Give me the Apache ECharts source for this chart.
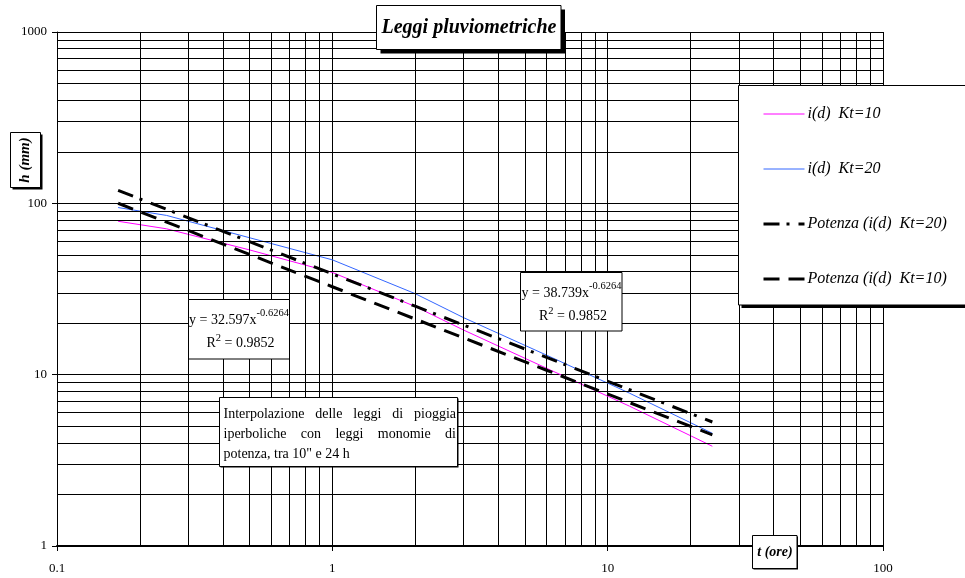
<!DOCTYPE html>
<html>
<head>
<meta charset="utf-8">
<title>Leggi pluviometriche</title>
<script src="https://cdn.jsdelivr.net/npm/echarts@6/dist/echarts.min.js"></script>
<style>
  html, body { margin: 0; padding: 0; background: #fff; }
  #chart { width: 965px; height: 578px; }
</style>
</head>
<body>
<div id="chart"></div>
<script>
// Durations (hours) and rainfall intensities of the hyperbolic laws
const durations = [0.1667, 0.25, 0.5, 1, 2, 3, 6, 12, 24];
const iKt10 = [78.6, 71, 53.5, 39.5, 25, 18.2, 10.9, 6.55, 3.82];
const iKt20 = [94.5, 85, 63, 46.8, 29.7, 21.5, 13.0, 7.8, 4.55];

// Power-law (monomial) trend lines, y = a * x^-0.6264
const fitDurations = [0.1667, 0.5, 1, 2, 6, 12, 24];
const fitKt20 = [119.01, 59.80, 38.739, 25.095, 12.610, 8.168, 5.292];
const fitKt10 = [100.14, 50.32, 32.597, 21.116, 10.611, 6.873, 4.453];

// Axis tick labels (one per decade) and minor grid values
const xTickLabels = ['0.1', '1', '10', '100'];
const yTickLabels = ['1', '10', '100', '1000'];
const xMinorGrid = [0.2, 0.3, 0.4, 0.5, 0.6, 0.7, 0.8, 0.9,
                    2, 3, 4, 5, 6, 7, 8, 9,
                    20, 30, 40, 50, 60, 70, 80, 90];
const yMinorGrid = [2, 3, 4, 5, 6, 7, 8, 9,
                    20, 30, 40, 50, 60, 70, 80, 90,
                    200, 300, 400, 500, 600, 700, 800, 900];

const seriesNames = ['i(d)  Kt=10', 'i(d)  Kt=20', 'Potenza (i(d)  Kt=20)', 'Potenza (i(d)  Kt=10)'];

const SERIF = '"Liberation Serif", "Times New Roman", serif';
const pairs = (xs, ys) => xs.map((x, i) => [x, ys[i]]);
const decadeIndex = v => Math.round(Math.log10(v));

// ---- boxes and free text ----
const graphics = [];

function box(x, y, w, h, shadow) {
  if (shadow) {
    graphics.push({ type: 'rect', z: 100, silent: true,
      shape: { x: x + shadow, y: y + shadow, width: w, height: h },
      style: { fill: '#000' } });
  }
  graphics.push({ type: 'rect', z: 100, silent: true,
    shape: { x: x, y: y, width: w, height: h },
    style: { fill: '#fff', stroke: '#000', lineWidth: 1 } });
}

function label(text, x, y, font, extra) {
  graphics.push(Object.assign({ type: 'text', z: 101, silent: true, x: x, y: y,
    style: { text: text, font: font, fill: '#000', align: 'center', verticalAlign: 'middle' } }, extra || {}));
}

// chart title
box(376.5, 5.5, 184.5, 44, 4);
label('Leggi pluviometriche', 469, 27.5, 'italic bold 20px ' + SERIF);

// axis names
box(10.5, 132.5, 30, 55, 2);
label('h (mm)', 25.5, 160, 'italic bold 15px ' + SERIF, { rotation: Math.PI / 2 });
box(752.5, 535.5, 44.5, 33, 1);
label('t (ore)', 775, 552, 'italic bold 14px ' + SERIF);

// legend frame
box(738.5, 85.5, 232, 219.5, 3);

// trend-line equations
function equation(cx, top, coef) {
  const rich = {
    m: { fontFamily: SERIF, fontSize: 14, lineHeight: 26, fill: '#000' },
    r: { fontFamily: SERIF, fontSize: 14, lineHeight: 22, fill: '#000' },
    s: { fontFamily: SERIF, fontSize: 10.5, lineHeight: 10, verticalAlign: 'top', fill: '#000' }
  };
  graphics.push({ type: 'text', z: 101, silent: true, x: cx, y: top + 21,
    style: { text: '{m|y = ' + coef + 'x}{s|-0.6264}', rich: rich, align: 'center', verticalAlign: 'middle' } });
  graphics.push({ type: 'text', z: 101, silent: true, x: cx + 1.5, y: top + 44,
    style: { text: '{r|R}{s|2}{r| = 0.9852}', rich: rich, align: 'center', verticalAlign: 'middle' } });
}
box(188.5, 299.5, 101, 59.5, 0);
equation(239, 299.5, '32.597');
box(520.5, 272.5, 101.5, 58.5, 0);
equation(571.5, 272.5, '38.739');

// justified note text
box(219.5, 397.5, 238, 69, 1);
const noteFont = '14px ' + SERIF;
const measureCtx = document.createElement('canvas').getContext('2d');
measureCtx.font = noteFont;
function noteLine(words, y, left, right, justify) {
  const widths = words.map(w => measureCtx.measureText(w).width);
  const used = widths.reduce((a, b) => a + b, 0);
  const gap = justify && words.length > 1 ? (right - left - used) / (words.length - 1)
                                          : measureCtx.measureText(' ').width;
  let x = left;
  words.forEach((w, i) => {
    graphics.push({ type: 'text', z: 101, silent: true, x: x, y: y,
      style: { text: w, font: noteFont, fill: '#000', align: 'left', verticalAlign: 'middle' } });
    x += widths[i] + gap;
  });
}
noteLine(['Interpolazione', 'delle', 'leggi', 'di', 'pioggia'], 414, 223.5, 456, true);
noteLine(['iperboliche', 'con', 'leggi', 'monomie', 'di'], 434, 223.5, 456, true);
noteLine(['potenza,', 'tra', '10"', 'e', '24', 'h'], 454, 223.5, 456, false);

// ---- chart ----
const chart = echarts.init(document.getElementById('chart'), null, { renderer: 'canvas' });

const axisLabelStyle = { fontFamily: SERIF, fontSize: 13, color: '#000' };

chart.setOption({
  animation: false,
  backgroundColor: '#fff',
  textStyle: { fontFamily: SERIF },
  grid: { left: 57, right: 82, top: 32, bottom: 32, containLabel: false },
  xAxis: {
    type: 'log', logBase: 10, min: 0.1, max: 100, splitNumber: 3,
    axisLine: { show: true, onZero: false, lineStyle: { color: '#000', width: 2 } },
    axisTick: { show: true, length: 5, lineStyle: { color: '#000', width: 1 } },
    axisLabel: Object.assign({ margin: 16,
      formatter: v => xTickLabels[decadeIndex(v) + 1] }, axisLabelStyle),
    splitLine: { show: true, lineStyle: { color: '#000', width: 1 } },
    minorTick: { show: false }, minorSplitLine: { show: false }
  },
  yAxis: {
    type: 'log', logBase: 10, min: 1, max: 1000, splitNumber: 3,
    axisLine: { show: true, onZero: false, lineStyle: { color: '#000', width: 1 } },
    axisTick: { show: true, length: 5, lineStyle: { color: '#000', width: 1 } },
    axisLabel: Object.assign({ margin: 10,
      formatter: v => yTickLabels[decadeIndex(v)] }, axisLabelStyle),
    splitLine: { show: true, lineStyle: { color: '#000', width: 1 } },
    minorTick: { show: false }, minorSplitLine: { show: false }
  },
  legend: {
    orient: 'vertical', left: 762, top: 106, padding: 0,
    itemWidth: 41, itemHeight: 14, itemGap: 39,
    selectedMode: false, z: 110,
    data: seriesNames,
    itemStyle: { opacity: 0, borderWidth: 0 },
    lineStyle: { width: 'inherit' },
    textStyle: { fontFamily: SERIF, fontStyle: 'italic', fontSize: 16, color: '#000', padding: [0, 0, 0, -2] }
  },
  graphic: graphics,
  series: [
    {
      // minor grid lines at 2..9 of each decade
      type: 'line', name: 'grid', data: [], silent: true, z: 1,
      markLine: {
        silent: true, symbol: ['none', 'none'], animation: false,
        label: { show: false }, emphasis: { disabled: true },
        lineStyle: { type: 'solid', color: '#000', width: 1 },
        data: xMinorGrid.map(v => ({ xAxis: v })).concat(yMinorGrid.map(v => ({ yAxis: v })))
      }
    },
    {
      name: seriesNames[0], type: 'line', z: 3, symbol: 'none',
      data: pairs(durations, iKt10),
      lineStyle: { color: '#FF00FF', width: 1 }, itemStyle: { color: '#FF00FF' }
    },
    {
      name: seriesNames[1], type: 'line', z: 3, symbol: 'none',
      data: pairs(durations, iKt20),
      lineStyle: { color: '#3366FF', width: 1 }, itemStyle: { color: '#3366FF' }
    },
    {
      name: seriesNames[2], type: 'line', z: 4, symbol: 'none',
      data: pairs(fitDurations, fitKt20),
      lineStyle: { color: '#000', width: 3, type: [16, 7, 3, 9] }, itemStyle: { color: '#000' }
    },
    {
      name: seriesNames[3], type: 'line', z: 4, symbol: 'none',
      data: pairs(fitDurations, fitKt10),
      lineStyle: { color: '#000', width: 3, type: [16, 9] }, itemStyle: { color: '#000' }
    }
  ]
});
</script>
</body>
</html>
